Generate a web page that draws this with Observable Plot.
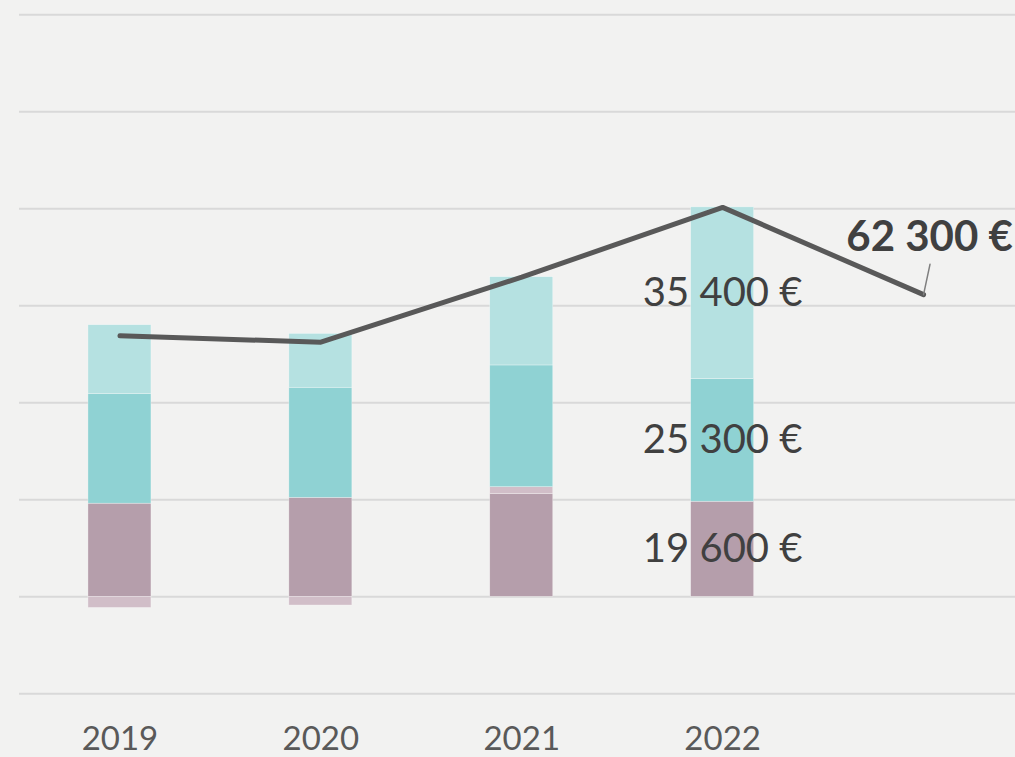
<!DOCTYPE html>
<html>
<head>
<meta charset="utf-8">
<script src="https://cdn.jsdelivr.net/npm/d3@7"></script>
<script src="https://cdn.jsdelivr.net/npm/@observablehq/plot@0.6"></script>
<style>
  html, body { margin: 0; padding: 0; background: #f2f2f1; }
  #chart svg { display: block; }
</style>
</head>
<body>
<div id="chart"></div>
<script>
// ---- data ----
const years = [2019, 2020, 2021, 2022];
const lineYears = [2019, 2020, 2021, 2022, 2023];
const seriesNames = ["Série 1", "Série 2", "Série 3", "Série 4"];
const serie1 = [19200, 20400, 21200, 19600];
const serie2 = [-2300, -1800, 1400, 0];
const serie3 = [22600, 22700, 25100, 25300];
const serie4 = [14200, 11100, 18200, 35400];
const totals = [53800, 52500, 65900, 80300, 62300];
const gridTicks = [-20000, 0, 20000, 40000, 60000, 80000, 100000, 120000];
const seriesColors = ["#b59eab", "#d1bec8", "#8fd2d3", "#b5e1e1"];

// ---- tables ----
const seriesValues = [serie1, serie2, serie3, serie4];
const rows = [];
seriesNames.forEach((s, i) => {
  years.forEach((y, j) => rows.push({series: s, year: y, value: seriesValues[i][j]}));
});
const lineRows = lineYears.map((y, i) => ({year: y, value: totals[i]}));
const lastPoint = [lineRows[lineRows.length - 1]];

const fmt = v => d3.format(",")(v).replace(/,/g, " ") + " €";

const chart = Plot.plot({
  width: 1015,
  height: 757,
  marginLeft: 19,
  marginRight: 0,
  marginTop: 14,
  marginBottom: 64,
  style: {background: "#f2f2f1", fontFamily: "Lato, 'Open Sans', sans-serif", color: "#595959"},
  x: {type: "band", domain: lineYears, range: [19, 1023.5], round: false,
      paddingInner: 0.6864, paddingOuter: 0.3432, axis: null},
  y: {domain: [-20000, 120000], range: [693.3, 14.3], axis: null},
  color: {domain: seriesNames, range: seriesColors},
  marks: [
    Plot.ruleY(gridTicks, {stroke: "#d9d9d9", strokeWidth: 2}),
    Plot.barY(rows, {x: "year", y: "value", fill: "series", z: "series", order: seriesNames,
      stroke: "#ffffff", strokeWidth: 0.6, strokeOpacity: 0.5}),
    Plot.lineY(lineRows, {x: "year", y: "value", stroke: "#595959", strokeWidth: 5,
      strokeLinecap: "round", strokeLinejoin: "miter"}),
    Plot.text(rows, Plot.stackY({
      filter: d => d.year === years[years.length - 1] && d.value > 0,
      x: "year", y: "value", z: "series", order: seriesNames,
      text: d => fmt(d.value), fontSize: 40, fill: "#404040"
    })),
    Plot.vector(lastPoint, {x: "year", y: "value", length: 31, rotate: 12, anchor: "start",
      stroke: "#7f7f7f", strokeWidth: 1.5,
      shape: {draw(context, l) { context.moveTo(0, 0); context.lineTo(0, -l); }}}),
    Plot.text(lastPoint, {x: "year", y: "value", text: d => fmt(d.value), dx: 6, dy: -57,
      fontSize: 42, fontWeight: "bold", fill: "#404040"}),
    Plot.axisX({ticks: years, tickFormat: d => String(d), label: null, tickSize: 0,
      tickPadding: 33, fontSize: 33, color: "#595959"})
  ]
});
document.getElementById("chart").appendChild(chart);
</script>
</body>
</html>
